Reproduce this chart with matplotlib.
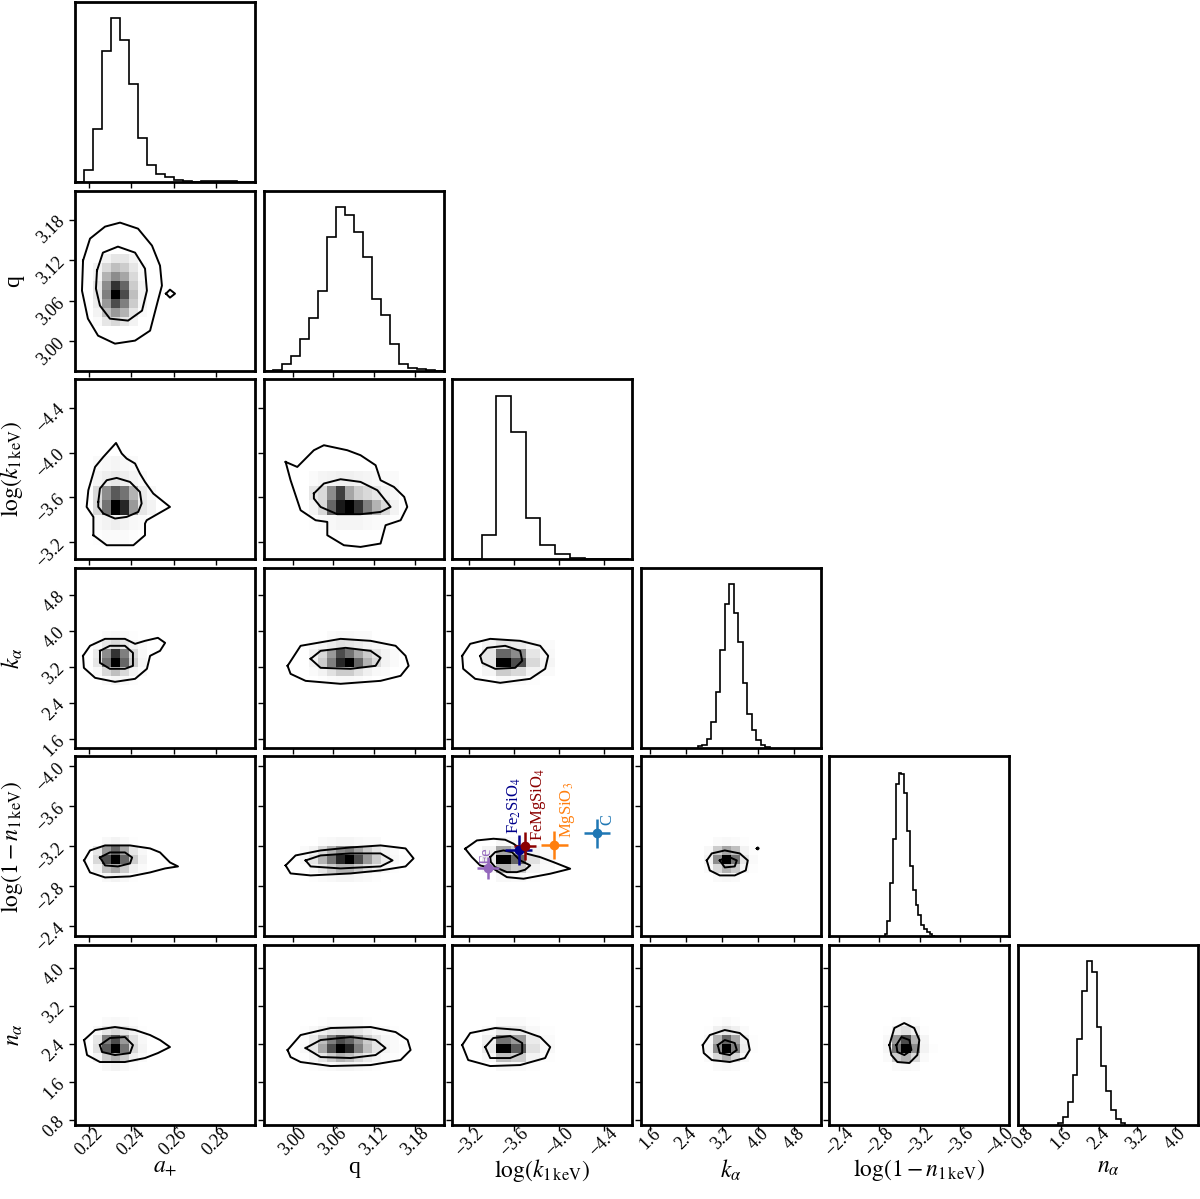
import numpy as np
import matplotlib
matplotlib.use("Agg")
import matplotlib.pyplot as plt
from matplotlib.colors import LinearSegmentedColormap

plt.rcParams["font.family"] = "serif"
plt.rcParams["font.serif"] = ["Liberation Serif", "DejaVu Serif"]
plt.rcParams["mathtext.fontset"] = "stix"

# ---- parameters, axis ranges and ticks
names = [r"$a_{+}$", "q", r"$\log(k_{\rm 1\,keV})$", r"$k_{\alpha}$",
         r"$\log(1-n_{\rm 1\,keV})$", r"$n_{\alpha}$"]
ranges = [(0.2134, 0.2985), (2.957, 3.2226), (-3.046, -4.655),
          (1.393, 5.40), (-2.300, -4.097), (0.688, 4.485)]
ticks = [[0.22, 0.24, 0.26, 0.28], [3.00, 3.06, 3.12, 3.18],
         [-3.2, -3.6, -4.0, -4.4], [1.6, 2.4, 3.2, 4.0, 4.8],
         [-2.4, -2.8, -3.2, -3.6, -4.0], [0.8, 1.6, 2.4, 3.2, 4.0]]
tick_labels = [["0.22", "0.24", "0.26", "0.28"], ["3.00", "3.06", "3.12", "3.18"],
               ["\u22123.2", "\u22123.6", "\u22124.0", "\u22124.4"],
               ["1.6", "2.4", "3.2", "4.0", "4.8"],
               ["\u22122.4", "\u22122.8", "\u22123.2", "\u22123.6", "\u22124.0"],
               ["0.8", "1.6", "2.4", "3.2", "4.0"]]

# ---- 1D marginal histograms (first edge, bin width, counts)
hist_lo = [0.2134, 2.957, -3.046, 2.66, -2.852, 1.538]
hist_w = [0.004255, 0.01328, -0.1315, 0.1, -0.028, 0.101]
h_aplus = [1, 37, 160, 393, 490, 425, 295, 133, 50, 23, 15, 7, 3, 1, 4, 4, 4, 4, 0, 0]
h_q = [0, 2, 20, 42, 95, 155, 237, 395, 485, 460, 410, 338, 212, 165, 80, 20, 7, 4, 1, 0]
h_logk = [0, 0, 72, 485, 377, 122, 42, 15, 3, 0, 0, 0]
h_kalpha = [4, 9, 27, 77, 167, 292, 427, 487, 400, 315, 192, 102, 52, 22, 7, 2]
h_logn = [8, 45, 158, 288, 453, 486, 483, 425, 313, 208, 138, 93, 63, 33, 23, 13, 6, 2]
h_nalpha = [7, 25, 70, 150, 257, 400, 487, 455, 292, 175, 102, 45, 17, 5]

# ---- 2D density grids (first edge, bin width per parameter)
grid_lo = [0.2134, 2.957, -3.046, 1.393, -2.300, 0.688]
grid_w = [0.004255, 0.01328, -0.1315, 0.2, -0.09, 0.19]

# (first x bin, top y bin, rows top->bottom)
g10 = (2, 12, [[0, .05, .1, .1, .05, 0], [.05, .15, .25, .2, .1, .02],
               [.05, .3, .45, .35, .15, .03], [.1, .45, .8, .6, .2, .05],
               [.1, .5, 1.0, .7, .25, .05], [.08, .4, .7, .5, .2, .04],
               [.05, .25, .4, .3, .1, .02], [.02, .1, .15, .1, .05, 0]])
g20 = (2, 6, [[.02, .03, .04, .03, .02, 0, 0], [.04, .07, .09, .07, .04, .02, 0],
              [.15, .45, .65, .55, .3, .08, .03], [.15, .55, 1.0, .85, .4, .1, .05],
              [.03, .05, .07, .05, .03, .02, 0], [.01, .02, .02, .02, .01, 0, 0]])
g21 = (5, 5, [[.02, .04, .05, .06, .06, .05, .04, .03, .02, .02],
              [.1, .15, .45, .75, .35, .2, .15, .1, .05, .03],
              [.05, .15, .6, .9, 1.0, .8, .5, .3, .15, .05],
              [.01, .02, .03, .04, .04, .04, .03, .02, .02, .01]])
g30 = (2, 12, [[0, .02, .03, .02, .01, 0], [.03, .1, .15, .1, .05, .02],
               [.08, .45, .8, .5, .15, .03], [.1, .55, 1.0, .6, .2, .04],
               [.03, .15, .25, .15, .05, .02], [0, .02, .04, .03, .01, 0]])
g31 = (5, 12, [[0, 0, .02, .03, .03, .02, .02, 0, 0, 0],
               [.02, .04, .08, .12, .1, .08, .05, .03, .02, 0],
               [.05, .15, .4, .7, .55, .35, .2, .1, .05, .02],
               [.05, .2, .5, .85, 1.0, .6, .3, .15, .05, .02],
               [.02, .05, .12, .2, .2, .12, .06, .03, .02, 0],
               [0, .01, .02, .03, .03, .02, .01, 0, 0, 0]])
g32 = (2, 11, [[.05, .1, .08, .04, .02], [.1, .6, .45, .1, .03],
               [.1, 1.0, .7, .15, .04], [.04, .2, .15, .05, .02],
               [0, .03, .02, .01, 0]])
g40 = (2, 10, [[0, .03, .05, .03, .01, 0], [.1, .4, .6, .35, .1, .03],
               [.15, .7, 1.0, .6, .2, .05], [.05, .25, .35, .2, .06, .02],
               [0, .03, .05, .03, .01, 0]])
g41 = (4, 10, [[0, 0, .02, .03, .04, .04, .03, .02, .02, 0, 0, 0],
               [.02, .05, .15, .3, .45, .5, .35, .2, .1, .05, .02, 0],
               [.03, .1, .3, .55, .85, 1.0, .7, .4, .2, .08, .03, .01],
               [.01, .04, .1, .2, .3, .3, .2, .12, .06, .03, .01, 0],
               [0, .01, .02, .03, .04, .04, .03, .02, .01, 0, 0, 0]])
g42 = (2, 10, [[0, .03, .02, .01, 0], [.05, .35, .2, .05, .02],
               [.08, 1.0, .6, .12, .03], [.03, .3, .2, .05, .02],
               [0, .03, .02, .01, 0]])
g43 = (7, 10, [[0, .02, .03, .02, .01, 0], [.03, .2, .35, .25, .05, .01],
               [.05, .45, 1.0, .55, .1, .02], [.02, .15, .3, .2, .04, .01],
               [0, .02, .03, .02, 0, 0]])
g50 = (2, 11, [[0, .02, .03, .02, .01, 0], [.03, .1, .15, .1, .04, .01],
               [.1, .5, .7, .4, .12, .03], [.12, .65, 1.0, .55, .15, .04],
               [.04, .2, .3, .2, .06, .02], [0, .03, .05, .03, .01, 0]])
g51 = (4, 11, [[0, 0, .01, .02, .02, .02, .02, .01, 0, 0, 0, 0],
               [.01, .03, .06, .1, .12, .12, .1, .06, .03, .02, .01, 0],
               [.02, .08, .25, .5, .7, .6, .4, .2, .1, .04, .02, 0],
               [.03, .1, .35, .7, 1.0, .85, .5, .25, .1, .05, .02, .01],
               [.01, .04, .1, .2, .3, .25, .15, .08, .04, .02, .01, 0],
               [0, .01, .02, .03, .04, .04, .03, .02, .01, 0, 0, 0]])
g52 = (2, 11, [[0, .02, .02, .01, 0], [.02, .1, .08, .03, .01],
               [.06, .55, .4, .08, .02], [.08, 1.0, .65, .12, .03],
               [.03, .25, .2, .05, .01], [0, .03, .02, .01, 0]])
g53 = (7, 11, [[0, .01, .02, .01, 0, 0], [.01, .06, .1, .06, .02, 0],
               [.03, .3, .6, .35, .06, .01], [.04, .45, 1.0, .5, .08, .01],
               [.02, .15, .3, .15, .03, 0], [0, .02, .03, .02, 0, 0]])
g54 = (6, 11, [[0, .01, .02, .01, 0, 0], [.01, .08, .12, .06, .01, 0],
               [.03, .4, .7, .3, .04, 0], [.04, .55, 1.0, .45, .05, .01],
               [.02, .2, .3, .15, .02, 0], [0, .02, .03, .02, 0, 0]])

# ---- contour lines (outer, inner, extra islands)
c10 = [[(0.2172, 3.1193), (0.2205, 3.1518), (0.2276, 3.1695), (0.2347, 3.1754), (0.2432, 3.1665),
        (0.2498, 3.1415), (0.2536, 3.1119), (0.2545, 3.0824), (0.2526, 3.0603), (0.2489, 3.0160),
        (0.2418, 3.0013), (0.2323, 2.9968), (0.2243, 3.0086), (0.2195, 3.0337), (0.2167, 3.0750)],
       [(0.2238, 3.1046), (0.2266, 3.1311), (0.2337, 3.1400), (0.2418, 3.1311), (0.2465, 3.1075),
        (0.2474, 3.0750), (0.2451, 3.0455), (0.2385, 3.0308), (0.2299, 3.0337), (0.2252, 3.0529),
        (0.2233, 3.0780)],
       [(0.2564, 3.0706), (0.2583, 3.0765), (0.2607, 3.0706), (0.2583, 3.0647)]]
c20 = [[(0.2221, -3.2605), (0.2221, -3.4241), (0.2189, -3.5135), (0.2197, -3.6628), (0.2229, -3.8711),
        (0.2268, -3.9605), (0.2328, -4.0856), (0.2355, -3.9909), (0.2378, -3.9462), (0.2418, -3.9015),
        (0.2441, -3.8121), (0.2465, -3.7370), (0.2504, -3.6333), (0.2583, -3.5135), (0.2473, -3.3946),
        (0.2465, -3.3651), (0.2465, -3.2605), (0.2410, -3.1711), (0.2284, -3.1711)],
       [(0.2244, -3.5582), (0.2252, -3.6780), (0.2284, -3.7522), (0.2331, -3.7728), (0.2394, -3.7370),
        (0.2441, -3.6476), (0.2449, -3.5439), (0.2433, -3.4688), (0.2378, -3.4241), (0.2323, -3.4098),
        (0.2268, -3.4545), (0.2244, -3.5135)]]
c21 = [[(2.9895, -3.9158), (3.0067, -3.8710), (3.0312, -4.0204), (3.0460, -4.0651), (3.0805, -4.0204),
        (3.1001, -3.9757), (3.1223, -3.8863), (3.1296, -3.7522), (3.1493, -3.6923), (3.1645, -3.6029),
        (3.1690, -3.5135), (3.1592, -3.3946), (3.1370, -3.3499), (3.1296, -3.1863), (3.1001, -3.1560),
        (3.0755, -3.1711), (3.0510, -3.2605), (3.0510, -3.3794), (3.0337, -3.3946), (3.0116, -3.4840),
        (2.9968, -3.7522)],
       [(3.0312, -3.6333), (3.0460, -3.7227), (3.0706, -3.7611), (3.1001, -3.7370), (3.1248, -3.6628),
        (3.1444, -3.5135), (3.1296, -3.4688), (3.1001, -3.4486), (3.0658, -3.4486), (3.0411, -3.5135),
        (3.0312, -3.5886)]]
c30 = [[(0.2172, 3.441), (0.2205, 3.664), (0.2276, 3.819), (0.2370, 3.819), (0.2418, 3.708),
        (0.2465, 3.775), (0.2526, 3.842), (0.2560, 3.730), (0.2536, 3.552), (0.2489, 3.441),
        (0.2474, 3.152), (0.2418, 2.929), (0.2323, 2.862), (0.2229, 2.951), (0.2176, 3.174)],
       [(0.2252, 3.552), (0.2299, 3.664), (0.2370, 3.664), (0.2408, 3.508), (0.2408, 3.218),
        (0.2370, 3.152), (0.2299, 3.152), (0.2252, 3.285)]]
c31 = [[(2.9924, 3.218), (3.0116, 3.664), (3.0706, 3.819), (3.1149, 3.775), (3.1518, 3.664),
        (3.1665, 3.441), (3.1710, 3.218), (3.1592, 2.996), (3.1296, 2.884), (3.0706, 2.818),
        (3.0190, 2.884), (2.9968, 3.040)],
       [(3.0264, 3.374), (3.0411, 3.552), (3.0780, 3.619), (3.1149, 3.552), (3.1296, 3.396),
        (3.1223, 3.218), (3.0854, 3.152), (3.0411, 3.174)]]
c32 = [[(-3.1354, 3.441), (-3.2069, 3.708), (-3.3857, 3.819), (-3.6539, 3.775), (-3.8327, 3.664),
        (-3.9041, 3.441), (-3.8773, 3.152), (-3.7433, 2.929), (-3.4751, 2.840), (-3.2516, 2.929),
        (-3.1443, 3.152)],
       [(-3.2963, 3.441), (-3.3589, 3.619), (-3.5198, 3.664), (-3.6539, 3.552), (-3.6717, 3.330),
        (-3.6092, 3.174), (-3.4304, 3.152), (-3.3142, 3.285)]]
c40 = [[(0.2177, -3.0587), (0.2205, -3.1585), (0.2276, -3.2085), (0.2394, -3.2085), (0.2489, -3.1785),
        (0.2536, -3.1386), (0.2583, -3.0387), (0.2621, -2.9988), (0.2560, -2.9788), (0.2489, -2.9389),
        (0.2394, -2.8990), (0.2276, -2.8890), (0.2205, -2.9389)],
       [(0.2252, -3.0886), (0.2299, -3.1386), (0.2370, -3.1386), (0.2404, -3.0886), (0.2394, -3.0288),
        (0.2337, -2.9988), (0.2276, -3.0088)]]
c41 = [[(2.9895, -3.0088), (3.0042, -3.1086), (3.0411, -3.1585), (3.0854, -3.1885), (3.1296, -3.2085),
        (3.1665, -3.1785), (3.1783, -3.0787), (3.1665, -2.9988), (3.1296, -2.9589), (3.0854, -2.9289),
        (3.0264, -2.9090), (2.9968, -2.9289)],
       [(3.0190, -3.0587), (3.0411, -3.1086), (3.0854, -3.1286), (3.1296, -3.1286), (3.1473, -3.0587),
        (3.1296, -2.9988), (3.0706, -2.9788), (3.0264, -2.9988)]]
c42 = [[(-3.1622, -3.1755), (-3.2668, -3.2584), (-3.4152, -3.2753), (-3.5198, -3.2654), (-3.5940, -3.2254),
        (-3.7138, -3.1256), (-3.8326, -3.0917), (-3.9515, -3.0417), (-4.1008, -2.9758), (-3.9220, -2.9259),
        (-3.6834, -2.8760), (-3.5350, -2.8920), (-3.4152, -2.9758), (-3.2963, -3.0088), (-3.2221, -3.0917)],
       [(-3.3857, -3.0917), (-3.4304, -3.1416), (-3.5046, -3.1585), (-3.5797, -3.1416), (-3.6539, -3.0587),
        (-3.7433, -3.0088), (-3.6985, -2.9659), (-3.6244, -2.9419), (-3.5350, -2.9419), (-3.4304, -2.9918),
        (-3.3919, -3.0417)]]
c43 = [[(2.862, -3.0587), (2.973, -3.1286), (3.263, -3.1585), (3.597, -3.1286), (3.775, -3.0587),
        (3.730, -2.9589), (3.485, -2.9090), (3.152, -2.9090), (2.929, -2.9589)],
       [(3.152, -3.0587), (3.330, -3.0986), (3.530, -3.0587), (3.485, -2.9988), (3.263, -2.9888)],
       [(3.975, -3.1785), (3.997, -3.1885), (4.019, -3.1785), (3.997, -3.1685)]]
c50 = [[(0.2177, 2.481), (0.2229, 2.692), (0.2323, 2.755), (0.2418, 2.692), (0.2489, 2.586),
        (0.2536, 2.481), (0.2583, 2.333), (0.2526, 2.206), (0.2465, 2.101), (0.2370, 2.017),
        (0.2252, 2.017), (0.2191, 2.164)],
       [(0.2252, 2.375), (0.2299, 2.523), (0.2370, 2.544), (0.2408, 2.375), (0.2394, 2.206),
        (0.2323, 2.164), (0.2262, 2.228)]]
c51 = [[(2.9924, 2.270), (3.0116, 2.586), (3.0559, 2.734), (3.1149, 2.755), (3.1518, 2.649),
        (3.1695, 2.481), (3.1739, 2.270), (3.1592, 2.059), (3.1149, 1.953), (3.0559, 1.932),
        (3.0116, 2.017), (2.9968, 2.122)],
       [(3.0190, 2.312), (3.0411, 2.481), (3.0854, 2.544), (3.1223, 2.481), (3.1370, 2.312),
        (3.1223, 2.164), (3.0854, 2.101), (3.0411, 2.122)]]
c52 = [[(-3.1354, 2.375), (-3.2069, 2.628), (-3.4304, 2.734), (-3.6539, 2.692), (-3.8327, 2.544),
        (-3.9221, 2.333), (-3.8773, 2.101), (-3.6539, 1.953), (-3.3857, 1.932), (-3.1890, 2.059)],
       [(-3.3410, 2.333), (-3.4125, 2.523), (-3.5645, 2.565), (-3.6717, 2.417), (-3.6717, 2.206),
        (-3.5645, 2.101), (-3.3857, 2.101)]]
c53 = [[(2.773, 2.375), (2.929, 2.586), (3.263, 2.692), (3.597, 2.628), (3.775, 2.481),
        (3.819, 2.270), (3.708, 2.101), (3.374, 2.017), (2.973, 2.059), (2.795, 2.206)],
       [(3.107, 2.375), (3.263, 2.481), (3.485, 2.417), (3.530, 2.270), (3.374, 2.164), (3.152, 2.206)]]
c54 = [[(-2.899, 2.375), (-2.949, 2.734), (-3.047, 2.839), (-3.147, 2.734), (-3.198, 2.481),
        (-3.178, 2.164), (-3.099, 1.996), (-2.979, 2.017), (-2.919, 2.164)],
       [(-2.969, 2.375), (-3.019, 2.544), (-3.099, 2.481), (-3.119, 2.270), (-3.049, 2.164),
        (-2.979, 2.228)]]

# ---- reference materials in the log(k) - log(1-n) panel
mat_names = ["Fe", r"Fe$_2$SiO$_4$", r"FeMgSiO$_4$", r"MgSiO$_3$", "C"]
mat_logk = [-3.365, -3.639, -3.699, -3.958, -4.340]
mat_logn = [-2.986, -3.159, -3.202, -3.212, -3.331]
mat_xerr = [0.10, 0.12, 0.10, 0.12, 0.12]
mat_yerr = [0.11, 0.15, 0.14, 0.14, 0.145]
mat_colors = ["#9467bd", "#00008b", "#8b0000", "#ff7f0e", "#1f77b4"]
mat_offsets = [(-7, 3), (-9, 12), (3, 4), (3, 5), (2, 6)]

grays = {(1, 0): g10, (2, 0): g20, (2, 1): g21, (3, 0): g30, (3, 1): g31, (3, 2): g32,
         (4, 0): g40, (4, 1): g41, (4, 2): g42, (4, 3): g43, (5, 0): g50, (5, 1): g51,
         (5, 2): g52, (5, 3): g53, (5, 4): g54}
contours = {(1, 0): c10, (2, 0): c20, (2, 1): c21, (3, 0): c30, (3, 1): c31, (3, 2): c32,
            (4, 0): c40, (4, 1): c41, (4, 2): c42, (4, 3): c43, (5, 0): c50, (5, 1): c51,
            (5, 2): c52, (5, 3): c53, (5, 4): c54}
hists = [h_aplus, h_q, h_logk, h_kalpha, h_logn, h_nalpha]

cmap = LinearSegmentedColormap.from_list("dens", ["#ffffff", "#000000"])
n = len(names)

fig = plt.figure(figsize=(12, 11.99), dpi=100)
gs = fig.add_gridspec(n, n, left=0.0625, right=0.9983, bottom=0.0617, top=0.9983,
                      wspace=0.0478, hspace=0.0478)

for i in range(n):
    for j in range(i + 1):
        ax = fig.add_subplot(gs[i, j])
        for s in ax.spines.values():
            s.set_linewidth(2.0)
        ax.tick_params(direction="out", length=4, width=1, labelsize=13, pad=1)
        ax.tick_params(axis="x", pad=-4)
        ax.set_xlim(ranges[j])
        ax.set_xticks(ticks[j])
        if i == n - 1:
            ax.set_xticklabels(tick_labels[j], rotation=45)
            ax.set_xlabel(names[j], fontsize=17)
            ax.xaxis.set_label_coords(0.5, -0.18)
        else:
            ax.set_xticklabels([])

        if i == j:
            cnt = hists[i]
            edges = hist_lo[i] + hist_w[i] * np.arange(len(cnt) + 1)
            ax.stairs(cnt, edges, color="k", linewidth=1.2)
            ax.set_ylim(0, 1.1 * max(cnt))
            ax.set_yticks([])
            continue

        ax.set_ylim(ranges[i])
        ax.set_yticks(ticks[i])
        if j == 0:
            ax.set_yticklabels(tick_labels[i], rotation=45)
            ax.set_ylabel(names[i], fontsize=17)
            ax.yaxis.set_label_coords(-0.28, 0.5)
        else:
            ax.set_yticklabels([])

        i0, jt, mat = grays[(i, j)]
        mat = np.array(mat)
        xe = grid_lo[j] + grid_w[j] * (i0 + np.arange(mat.shape[1] + 1))
        ye = grid_lo[i] + grid_w[i] * (jt + 1 - np.arange(mat.shape[0] + 1))
        ax.pcolormesh(xe, ye, mat, cmap=cmap, vmin=0, vmax=1, zorder=1)

        for line in contours[(i, j)]:
            pts = np.array(line + [line[0]])
            ax.plot(pts[:, 0], pts[:, 1], color="k", linewidth=1.4, zorder=2)

        if (i, j) == (4, 2):
            for k in range(len(mat_names)):
                ax.errorbar(mat_logk[k], mat_logn[k], xerr=mat_xerr[k], yerr=mat_yerr[k],
                            fmt="o", color=mat_colors[k], markersize=6,
                            elinewidth=1.8, capsize=0, zorder=4)
                ax.annotate(mat_names[k], (mat_logk[k], mat_logn[k]),
                            xytext=mat_offsets[k], textcoords="offset points",
                            rotation=90, ha="left", va="bottom",
                            color=mat_colors[k], fontsize=12, zorder=5)

fig.savefig("out.png", dpi=100, facecolor="white")
